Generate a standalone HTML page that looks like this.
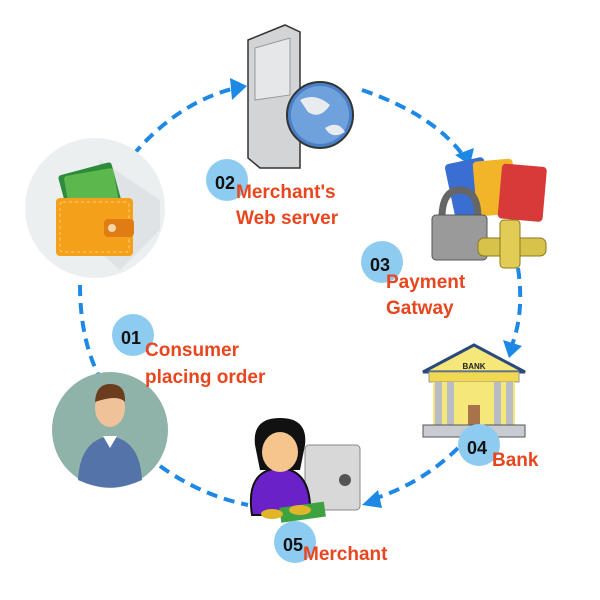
<!DOCTYPE html>
<html><head><meta charset="utf-8"><style>
body{margin:0;background:#fff}
svg{display:block}
text{font-family:"Liberation Sans",sans-serif;font-weight:bold}
.l{fill:#e8461e;font-size:19px}
.n{fill:#111;font-size:18px}
.d{fill:none;stroke:#1e88e5;stroke-width:4;stroke-dasharray:11 7}
</style></head><body>
<svg width="600" height="600" viewBox="0 0 600 600">
<!-- dashed connectors -->
<path class="d" d="M133,155 Q180,100 240,87"/>
<path d="M230,78 L247,86 L232,100 Z" fill="#1e88e5"/>
<path class="d" d="M362,90 Q435,115 465,158"/>
<path d="M455,155 L470,165 L474,148 Z" fill="#1e88e5"/>
<path class="d" d="M518,268 Q525,315 510,350"/>
<path d="M503,340 L509,358 L522,346 Z" fill="#1e88e5"/>
<path class="d" d="M458,448 Q420,485 370,500"/>
<path d="M378,490 L362,505 L382,508 Z" fill="#1e88e5"/>
<path class="d" d="M160,466 Q200,495 248,505"/>
<path class="d" d="M80,285 Q80,340 100,378"/>
<!-- wallet -->
<circle cx="95" cy="208" r="70" fill="#eceff0"/>
<path d="M100,160 L160,200 L160,230 L120,270 L80,235 Z" fill="#dfe3e5"/>
<rect x="62" y="168" width="55" height="40" rx="3" fill="#2e8b3a" transform="rotate(-15 90 188)"/>
<rect x="66" y="172" width="50" height="36" rx="3" fill="#5cb84c" transform="rotate(-10 90 188)"/>
<rect x="56" y="198" width="77" height="58" rx="4" fill="#f5a01a"/>
<rect x="60" y="202" width="69" height="50" rx="3" fill="none" stroke="#fcd27a" stroke-width="1" stroke-dasharray="3 3"/>
<rect x="104" y="219" width="30" height="18" rx="4" fill="#e07c14"/>
<circle cx="112" cy="228" r="4" fill="#f4d6a8"/>
<!-- consumer -->
<circle cx="110" cy="430" r="58" fill="#8fb3a8"/>
<path d="M78,480 Q80,440 110,436 Q140,440 142,480 Q110,495 78,480 Z" fill="#5473a8"/>
<path d="M103,436 L110,448 L117,436 Z" fill="#fff"/>
<ellipse cx="110" cy="408" rx="15" ry="19" fill="#f0c29a"/>
<path d="M95,402 Q96,384 110,384 Q126,384 125,402 Q118,394 95,402 Z" fill="#6b3c1e"/>
<!-- server -->
<path d="M248,40 L285,25 L300,32 L300,168 L260,168 L248,158 Z" fill="#d2d4d6" stroke="#333" stroke-width="1.5"/>
<path d="M255,48 L290,38 L290,95 L255,100 Z" fill="#e6e7e8" stroke="#999"/>
<circle cx="320" cy="115" r="33" fill="#4a80c8" stroke="#333" stroke-width="2"/>
<circle cx="320" cy="115" r="29" fill="#6fa2dc"/>
<path d="M300,100 Q315,92 330,105 Q320,120 308,112 Z M325,128 Q338,120 345,132 Q332,140 325,128Z" fill="#e8ecef"/>
<!-- payment gateway -->
<rect x="450" y="160" width="40" height="55" rx="4" fill="#3a6ed0" transform="rotate(-12 470 190)"/>
<rect x="475" y="160" width="40" height="55" rx="4" fill="#f2b52a" transform="rotate(-5 495 190)"/>
<rect x="500" y="165" width="45" height="55" rx="4" fill="#d83a3a" transform="rotate(5 520 190)"/>
<path d="M442,218 Q442,190 460,190 Q478,190 478,218" fill="none" stroke="#666" stroke-width="7"/>
<rect x="432" y="215" width="55" height="45" rx="4" fill="#9a9a9a" stroke="#555"/>
<rect x="478" y="238" width="68" height="18" rx="6" fill="#d8c24a" stroke="#8a7a20"/>
<rect x="500" y="220" width="20" height="48" rx="4" fill="#e2cc55" stroke="#8a7a20"/>
<!-- bank -->
<path d="M423,372 L474,345 L525,372 Z" fill="#f5e77a" stroke="#2a4a7a" stroke-width="3"/>
<text x="474" y="369" font-size="8" fill="#222" text-anchor="middle">BANK</text>
<rect x="429" y="372" width="90" height="10" fill="#f0d850" stroke="#999"/>
<rect x="433" y="382" width="82" height="43" fill="#f5e77a"/>
<rect x="435" y="382" width="7" height="43" fill="#b8bcc4"/><rect x="447" y="382" width="7" height="43" fill="#b8bcc4"/>
<rect x="494" y="382" width="7" height="43" fill="#b8bcc4"/><rect x="506" y="382" width="7" height="43" fill="#b8bcc4"/>
<rect x="468" y="405" width="12" height="20" fill="#a8724a"/>
<rect x="423" y="425" width="102" height="12" fill="#c8ccd2" stroke="#555"/>
<!-- merchant -->
<rect x="305" y="445" width="55" height="65" rx="4" fill="#d8d8d8" stroke="#888"/>
<circle cx="345" cy="480" r="6" fill="#555"/>
<path d="M252,515 Q245,470 280,468 Q312,470 310,515 Z" fill="#6a22c8" stroke="#111" stroke-width="2"/>
<path d="M255,445 Q252,418 280,418 Q308,418 305,445 L300,470 L260,470 Z" fill="#111"/>
<ellipse cx="280" cy="452" rx="18" ry="20" fill="#f6c58e"/>
<rect x="280" y="505" width="45" height="15" fill="#3da340" transform="rotate(-8 300 512)"/>
<ellipse cx="272" cy="514" rx="11" ry="5" fill="#e0b52a"/><ellipse cx="300" cy="510" rx="11" ry="5" fill="#e0b52a"/>
<!-- number circles -->
<circle cx="227" cy="180" r="21" fill="#8ecbf0"/><text class="n" x="215" y="189">02</text>
<circle cx="382" cy="262" r="21" fill="#8ecbf0"/><text class="n" x="370" y="271">03</text>
<circle cx="133" cy="335" r="21" fill="#8ecbf0"/><text class="n" x="121" y="344">01</text>
<circle cx="479" cy="445" r="21" fill="#8ecbf0"/><text class="n" x="467" y="454">04</text>
<circle cx="295" cy="542" r="21" fill="#8ecbf0"/><text class="n" x="283" y="551">05</text>
<!-- labels -->
<text class="l" x="236" y="198">Merchant's</text>
<text class="l" x="236" y="224">Web server</text>
<text class="l" x="386" y="288">Payment</text>
<text class="l" x="386" y="314">Gatway</text>
<text class="l" x="145" y="356">Consumer</text>
<text class="l" x="145" y="383">placing order</text>
<text class="l" x="492" y="466">Bank</text>
<text class="l" x="303" y="560">Merchant</text>
</svg>
</body></html>
